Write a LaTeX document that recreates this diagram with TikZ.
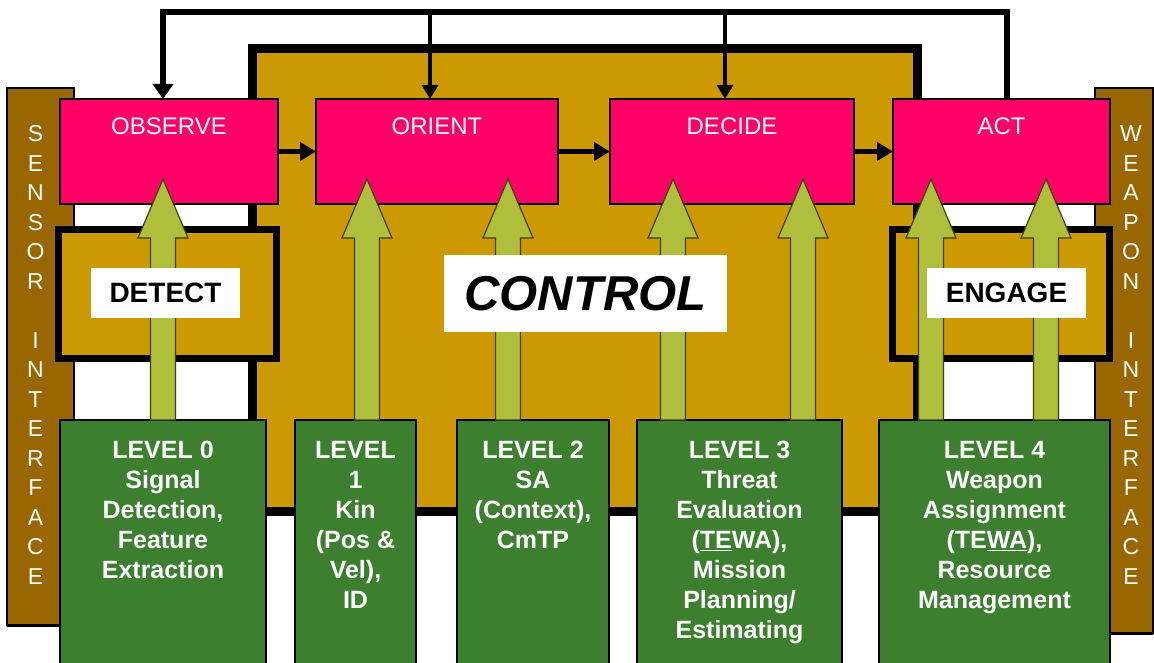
\documentclass[tikz,border=0pt]{standalone}
\usepackage{fontspec}
\setmainfont{Liberation Sans}
\usetikzlibrary{arrows.meta,calc}
\definecolor{pinkc}{HTML}{FF0066}
\definecolor{goldc}{HTML}{CC9900}
\definecolor{brownc}{HTML}{996600}
\definecolor{greenc}{HTML}{3B7F2F}
\definecolor{arrowc}{HTML}{AFBF3C}
\definecolor{arrowline}{HTML}{3F3F10}
\newcommand\greenarrow[3]{%
  \filldraw[garrow] let \p1=(#2.north), \p2=(#3.south) in
  ({(#1-12.5)*1pt},\y1) -- ({(#1-12.5)*1pt},\y2-34pt) -- ({(#1-25)*1pt},\y2-34pt)
  -- ({#1*1pt},\y2+25pt) -- ({(#1+25)*1pt},\y2-34pt) -- ({(#1+12.5)*1pt},\y2-34pt)
  -- ({(#1+12.5)*1pt},\y1) -- cycle;}
\begin{document}
\begin{tikzpicture}[x=1pt,y=-1pt,
  box/.style={rectangle, inner sep=0pt, outer sep=0pt},
  pinkbox/.style={box, fill=pinkc, draw=black, line width=1.5pt, minimum height=105pt},
  plabel/.style={inner sep=0pt, text=white, font=\fontsize{24}{28}\selectfont},
  greenbox/.style={box, fill=greenc, draw=black, line width=2pt, minimum height=250pt},
  lvltext/.style={inner sep=0pt, anchor=north, text=white, align=center, font=\fontsize{25}{30}\selectfont\bfseries},
  goldbox/.style={box, fill=goldc, draw=black},
  wlabel/.style={box, fill=white, text=black},
  iface/.style={inner sep=0pt, text=white, font=\fontsize{23}{26}\selectfont},
  garrow/.style={fill=arrowc, draw=arrowline, line width=1.2pt, line join=miter},
  harrow/.style={line width=5pt, -{Triangle[length=16pt,width=18pt]}},
  fbline/.style={line width=6.5pt, line join=miter, -{Triangle[length=15pt,width=20pt]}},
  fbbranch/.style={line width=4.5pt, -{Triangle[length=14pt,width=16pt]}}
]
\clip (0,0) rectangle (1154,663);
\fill[white] (0,0) rectangle (1154,663);
\coordinate (fbtop) at (0,12);

% interface bars
\node[box, fill=brownc, draw=black, line width=1.2pt, minimum width=67pt, minimum height=537pt] (sensor) at (40.5,356.5) {};
\draw[line width=3pt] (sensor.south west) -- (sensor.south east);
\node[box, fill=brownc, draw=black, line width=1.2pt, minimum width=58pt, minimum height=545pt] (weapon) at (1124,360.5) {};
\draw[line width=3pt] (weapon.south west) -- (weapon.south east);
\foreach \l [count=\i from 0] in {S,E,N,S,O,R,{},I,N,T,E,R,F,A,C,E}
  \node[iface] (s\i) at (35.5,{134+\i*29.5}) {\l};
\foreach \l [count=\i from 0] in {W,E,A,P,O,N,{},I,N,T,E,R,F,A,C,E}
  \node[iface] (w\i) at (1131,{134+\i*29.5}) {\l};

% control area
\node[goldbox, line width=9pt, minimum width=665pt, minimum height=462pt] (ctrl) at (584.5,280) {};
\node[goldbox, line width=7pt, minimum width=218pt, minimum height=129pt] (detbox) at (167.5,294) {};
\node[goldbox, line width=7pt, minimum width=217pt, minimum height=128.5pt] (engbox) at (1001,294) {};

% OODA boxes
\node[pinkbox, minimum width=218pt] (obs) at (169,151.5) {};
\node[pinkbox, minimum width=242pt] (ori) at (437,151.5) {};
\node[pinkbox, minimum width=244pt] (dec) at (732,151.5) {};
\node[pinkbox, minimum width=217pt] (act) at (1001.5,151.5) {};
\node[plabel, anchor=base] (obsl) at ([yshift=-36pt]obs.north) {OBSERVE};
\node[plabel, anchor=base] (oril) at ([yshift=-36pt]ori.north) {ORIENT};
\node[plabel, anchor=base] (decl) at ([yshift=-36pt]dec.north) {DECIDE};
\node[plabel, anchor=base] (actl) at ([yshift=-36pt]act.north) {ACT};
\draw[harrow] (obs.east) -- (ori.west);
\draw[harrow] (ori.east) -- (dec.west);
\draw[harrow] (dec.east) -- (act.west);

% feedback loop
\draw[fbline] ([xshift=5.5pt]act.north) -- ([xshift=5.5pt]act.north |- fbtop) -| ([xshift=-6pt]obs.north);
\draw[fbbranch] ([xshift=-7pt]ori.north |- fbtop) -- ([xshift=-7pt]ori.north);
\draw[fbbranch] ([xshift=-7pt]dec.north |- fbtop) -- ([xshift=-7pt]dec.north);

% level boxes
\node[greenbox, minimum width=206pt] (l0) at (163,545) {};
\node[greenbox, minimum width=121pt] (l1) at (355.5,545) {};
\node[greenbox, minimum width=152pt] (l2) at (533,545) {};
\node[greenbox, minimum width=205pt] (l3) at (739.5,545) {};
\node[greenbox, minimum width=231pt] (l4) at (994.5,545) {};

% block arrows
\greenarrow{163}{l0}{obs}
\greenarrow{367}{l1}{ori}
\greenarrow{508}{l2}{ori}
\greenarrow{673}{l3}{dec}
\greenarrow{803}{l3}{dec}
\greenarrow{931}{l4}{act}
\greenarrow{1046}{l4}{act}

% white labels
\node[wlabel, minimum width=149pt, minimum height=50pt, font=\fontsize{28}{32}\selectfont\bfseries] (detect) at (165.5,293) {DETECT};
\node[wlabel, minimum width=159pt, minimum height=50pt, font=\fontsize{28}{32}\selectfont\bfseries] (engage) at (1006.5,293) {ENGAGE};
\node[wlabel, minimum width=283pt, minimum height=77pt, font=\fontsize{49}{55}\selectfont\bfseries\itshape] (control) at (585.5,293.5) {CONTROL};

% level texts
\node[lvltext] (t0) at ([yshift=-21pt]l0.north) {LEVEL 0\\Signal\\Detection,\\Feature\\Extraction};
\node[lvltext] (t1) at ([yshift=-21pt]l1.north) {LEVEL\\1\\Kin\\(Pos \&\\Vel),\\ID};
\node[lvltext] (t2) at ([yshift=-21pt]l2.north) {LEVEL 2\\SA\\(Context),\\CmTP};
\node[lvltext] (t3) at ([yshift=-21pt]l3.north) {LEVEL 3\\Threat\\Evaluation\\(\underline{TE}WA),\\Mission\\Planning/\\Estimating};
\node[lvltext] (t4) at ([yshift=-21pt]l4.north) {LEVEL 4\\Weapon\\Assignment\\(TE\underline{WA}),\\Resource\\Management};
\end{tikzpicture}
\end{document}
